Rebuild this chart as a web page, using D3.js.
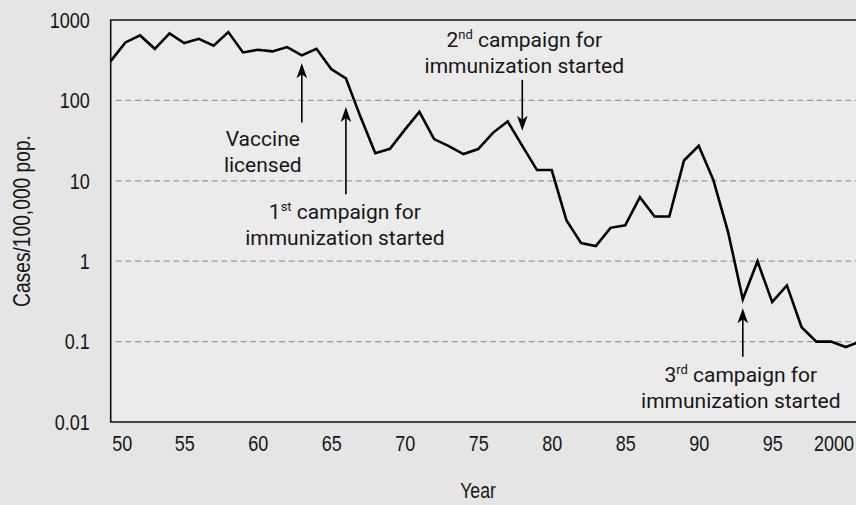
<!DOCTYPE html>
<html><head><meta charset="utf-8">
<script src="https://cdn.jsdelivr.net/npm/d3@7"></script>
<style>
html,body{margin:0;padding:0;background:#e5e5e5;}
svg{display:block;}
</style></head><body>
<svg id="chart" width="856" height="505"></svg>
<script>
// ---- data ----
const years = d3.range(1950, 2002);
const cases = [308,526,643,438,681,516,584,478,707,395,426,407,460,363,438,245,188,62,22,25,
               43,72,33,27,21.5,24.8,39.5,54.8,27.2,13.6,13.6,3.24,1.68,1.54,2.6,2.79,6.27,3.6,3.6,17.9,
               27.2,10.2,2.3,0.337,1.0,0.31,0.5,0.151,0.1,0.1,0.0855,0.1];
const yTickValues = [0.01, 0.1, 1, 10, 100, 1000];
const yTickLabels = ["0.01", "0.1", "1", "10", "100", "1000"];
const xTickValues = [1950, 1955, 1960, 1965, 1970, 1975, 1980, 1985, 1990, 1995, 2000];
const xTickLabels = ["50", "55", "60", "65", "70", "75", "80", "85", "90", "95", "2000"];
const gridValues = [0.1, 1, 10, 100];
// annotations: arrow at year, from value to tip value
const annotations = [
  {lines: [["Vaccine"], ["licensed"]], year: 1963, from: 53, to: 290, dx: -39, base: [146, 172]},
  {lines: [["1", "st", " campaign for"], ["immunization started"]], year: 1966, from: 6.8, to: 83, dx: -1, base: [219, 245]},
  {lines: [["2", "nd", " campaign for"], ["immunization started"]], year: 1978, from: 180, to: 42, dx: 2, base: [47, 73]},
  {lines: [["3", "rd", " campaign for"], ["immunization started"]], year: 1993, from: 0.065, to: 0.26, dx: -2, base: [382, 408]}
];

// ---- layout ----
const W = 856, H = 505;
const mLeft = 110.7, mTop = 20, mBottom = 422;
const svg = d3.select("#chart");
const x = d3.scaleLinear().domain([1950, 2001]).range([mLeft, mLeft + 51 * 14.7]);
const y = d3.scaleLog().domain([0.01, 1000]).range([mBottom, mTop]);

svg.append("rect").attr("width", W).attr("height", H).attr("fill", "#e5e5e5");
svg.append("rect").attr("x", mLeft).attr("y", mTop).attr("width", W - mLeft).attr("height", mBottom - mTop).attr("fill", "#ebebeb");

// gridlines
svg.append("g").selectAll("line").data(gridValues).join("line")
  .attr("x1", mLeft + 5).attr("x2", W)
  .attr("y1", d => y(d)).attr("y2", d => y(d))
  .attr("stroke", "#9a9a9a").attr("stroke-width", 1.3).attr("stroke-dasharray", "6,3.6");

// frame
svg.append("path")
  .attr("d", `M${W},${mTop}H${mLeft}V${mBottom}H${W}`)
  .attr("fill", "none").attr("stroke", "#111").attr("stroke-width", 1.6);

// condensed look: squeeze glyphs horizontally
function condense(sel, k) {
  sel.each(function () {
    const w = this.getComputedTextLength();
    d3.select(this).attr("textLength", w * k).attr("lengthAdjust", "spacingAndGlyphs");
  });
}

// axes
const tickFont = "'Liberation Sans', Arial, sans-serif";
const yAxis = svg.append("g").attr("transform", `translate(${mLeft},0)`)
  .call(d3.axisLeft(y).tickValues(yTickValues).tickSize(0).tickPadding(21)
    .tickFormat((d, i) => yTickLabels[i]));
const xAxis = svg.append("g").attr("transform", `translate(0,${mBottom})`)
  .call(d3.axisBottom(x).tickValues(xTickValues).tickSize(0).tickPadding(13)
    .tickFormat((d, i) => xTickLabels[i]));
[yAxis, xAxis].forEach(g => {
  g.select(".domain").remove();
  g.selectAll("text").attr("font-family", tickFont).attr("font-size", 22.5).attr("fill", "#161616");
});
condense(yAxis.selectAll("text"), 0.8);
condense(xAxis.selectAll(".tick").filter(d => d !== 2000).select("text"), 0.8);
xAxis.selectAll(".tick").filter(d => d === 1950).select("text").attr("text-anchor", "start").attr("x", 1);
// last label: squeezed with a transform so that it stays inside the picture
xAxis.selectAll(".tick").filter(d => d === 2000).select("text")
  .attr("text-anchor", "end").attr("x", 0)
  .attr("transform", `translate(${W - 2.5 - x(2000)},0) scale(0.8,1)`);

// axis titles
const yTitle = svg.append("text").attr("transform", "translate(30,221) rotate(-90)")
  .attr("text-anchor", "middle").attr("font-family", tickFont).attr("font-size", 24).attr("fill", "#161616")
  .text("Cases/100,000 pop.");
const xTitle = svg.append("text").attr("x", 478).attr("y", 498)
  .attr("text-anchor", "middle").attr("font-family", tickFont).attr("font-size", 22).attr("fill", "#161616")
  .text("Year");
condense(yTitle, 0.8);
condense(xTitle, 0.8);

// line
svg.append("path")
  .datum(years.map((yr, i) => [yr, cases[i]]))
  .attr("fill", "none").attr("stroke", "#000").attr("stroke-width", 2.6).attr("stroke-linejoin", "miter")
  .attr("d", d3.line().x(d => x(d[0])).y(d => y(d[1])));

// annotations
const annFont = "Roboto, 'Noto Sans', sans-serif";
annotations.forEach(a => {
  const ax = x(a.year), y1 = y(a.from), y2 = y(a.to);
  const dir = y2 < y1 ? 1 : -1; // 1 = points up
  const headLen = 15, headW = 5.3;
  svg.append("line").attr("x1", ax).attr("x2", ax).attr("y1", y1).attr("y2", y2 + dir * 8)
    .attr("stroke", "#000").attr("stroke-width", 1.6);
  svg.append("path")
    .attr("d", `M${ax},${y2} L${ax - headW},${y2 + dir * headLen} L${ax},${y2 + dir * 11} L${ax + headW},${y2 + dir * headLen} Z`)
    .attr("fill", "#000");
  a.lines.forEach((parts, li) => {
    const t = svg.append("text").attr("x", ax + a.dx).attr("y", a.base[li])
      .attr("text-anchor", "middle").attr("font-family", annFont).attr("font-size", 21).attr("fill", "#161616");
    if (parts.length === 1) {
      t.text(parts[0]);
    } else {
      t.append("tspan").text(parts[0]);
      t.append("tspan").attr("font-size", 13).attr("dy", -8).text(parts[1]);
      t.append("tspan").attr("dy", 8).text(parts[2]);
    }
  });
});
</script>
</body></html>
